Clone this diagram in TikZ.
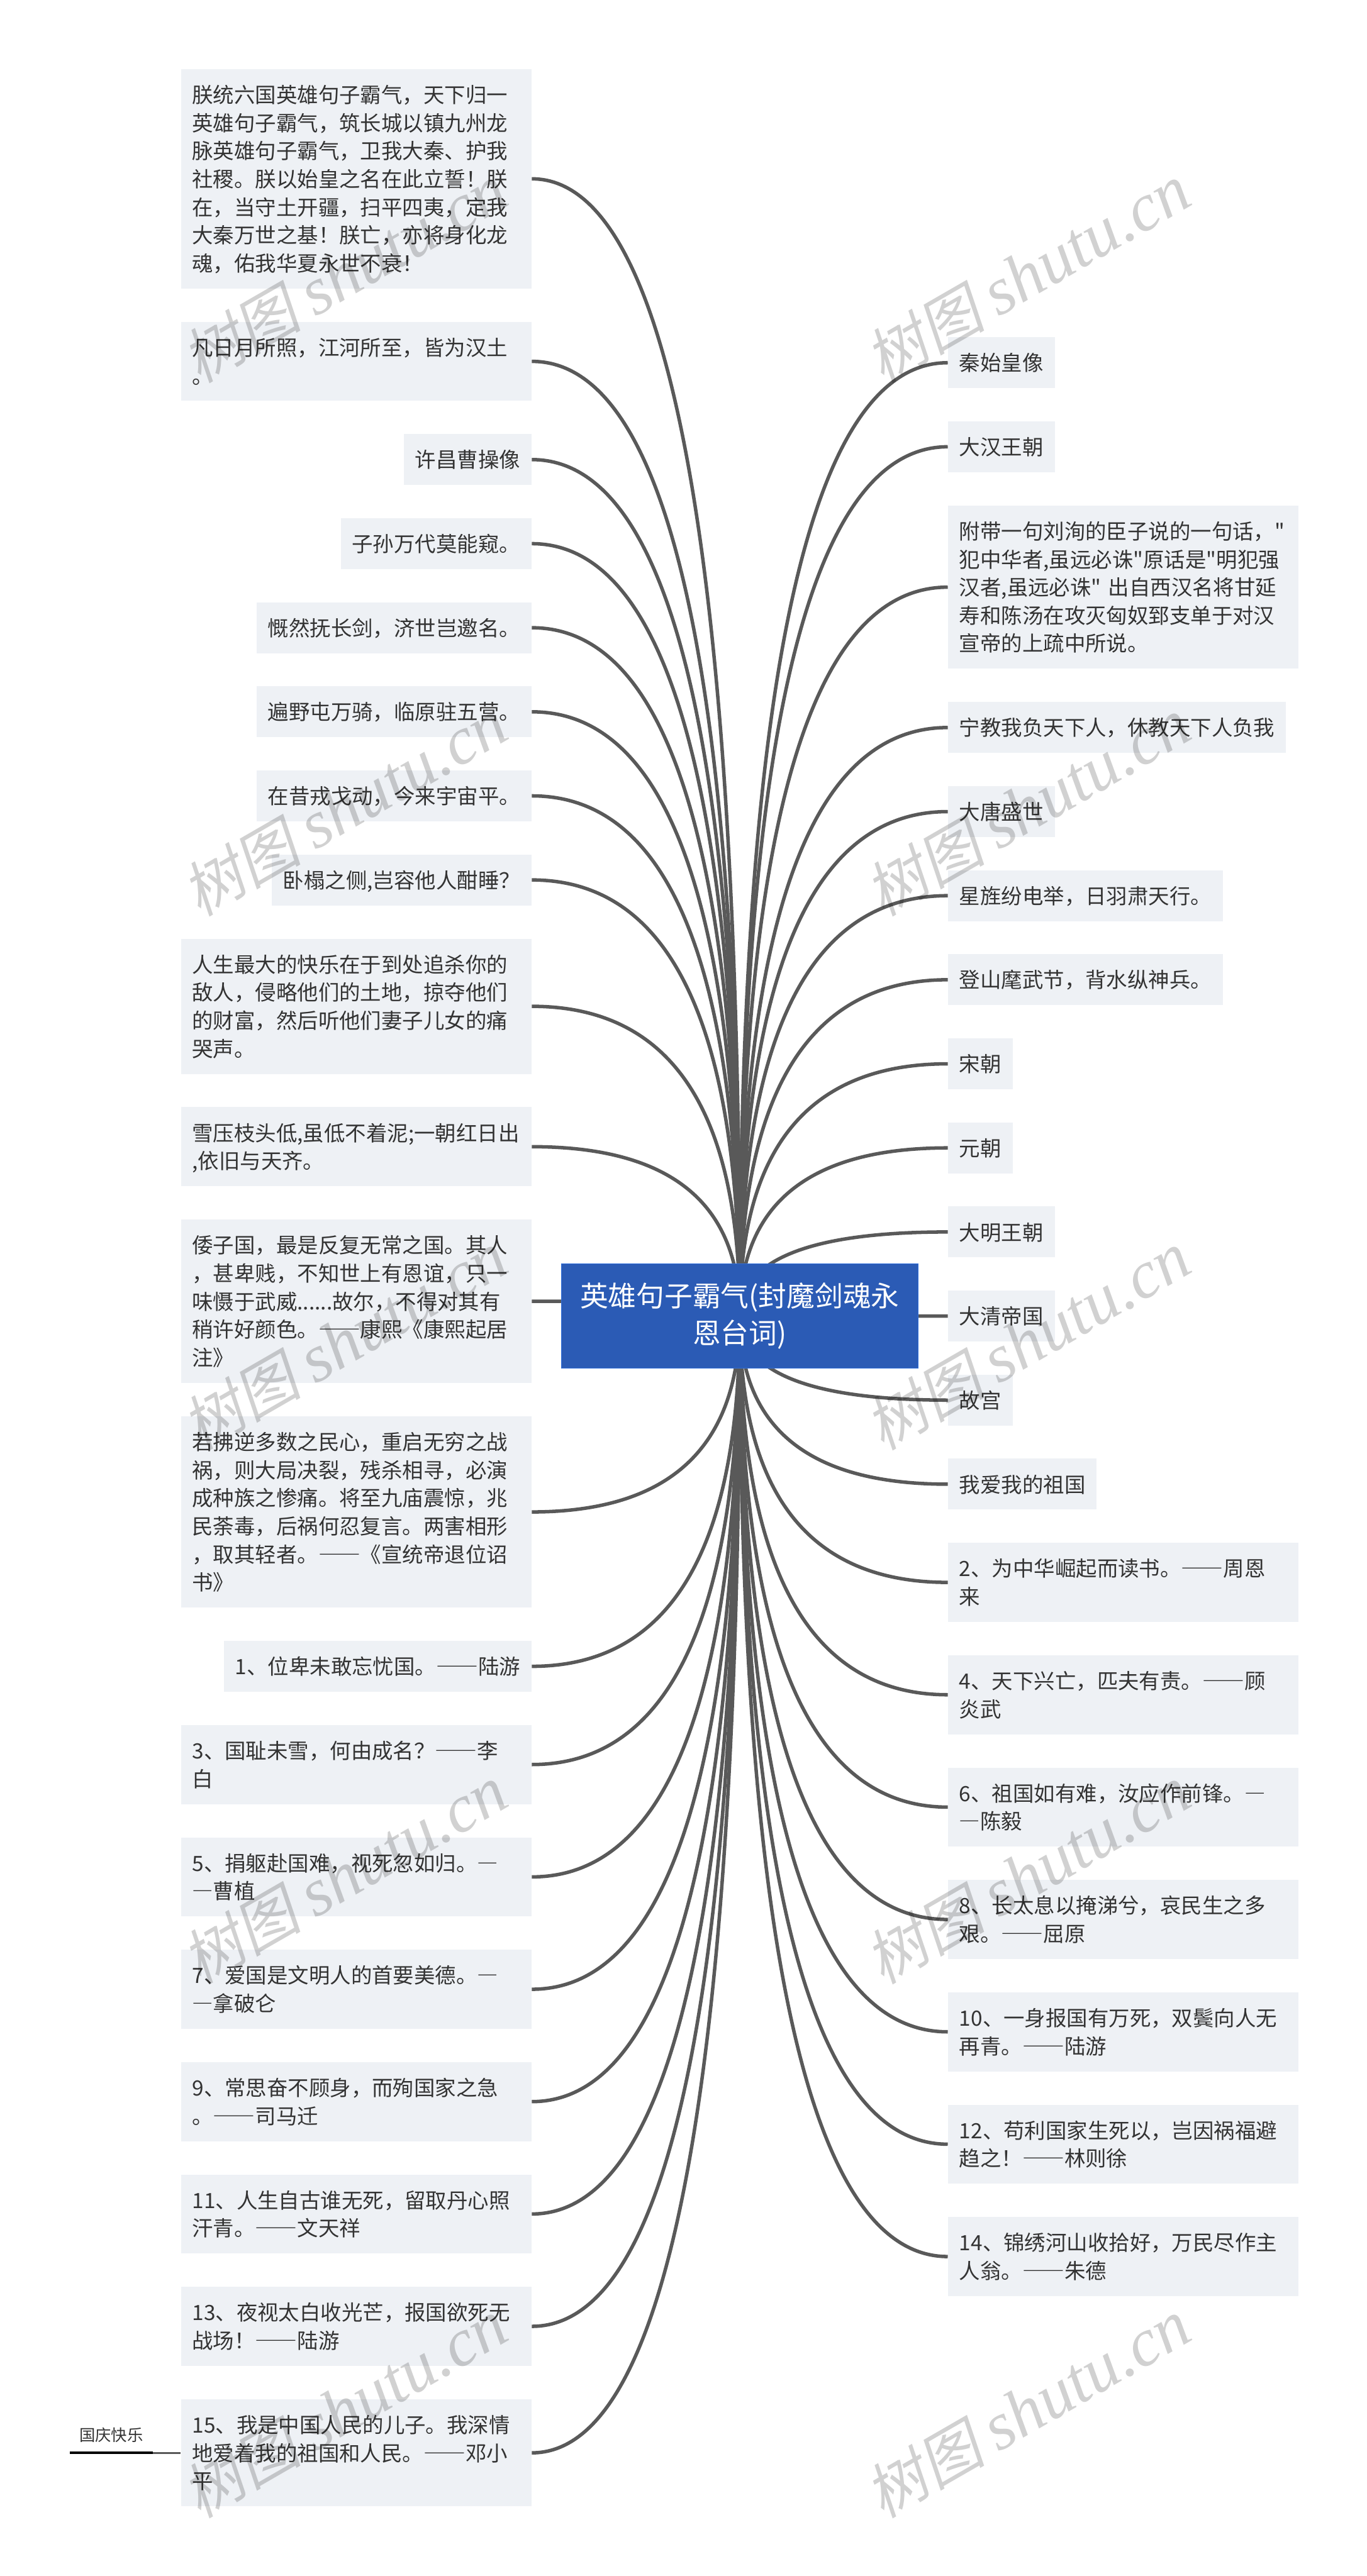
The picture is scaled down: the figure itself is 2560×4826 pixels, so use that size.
\documentclass[tikz,border=0pt]{standalone}
\usepackage{fontspec}
\setmainfont{Noto Sans CJK SC}
\newfontfamily\kplainfont{Noto Sans CJK SC}
\newfontfamily\kdashfont[RawFeature=+fwid]{Noto Sans CJK SC}
\newfontfamily\kmarkcjk[FakeSlant=0.2]{Noto Sans CJK SC}
\newfontfamily\kmarklat{Liberation Serif}
\newcommand{\kd}{{\kdashfont —}}
\newcommand{\kq}{{\kplainfont "}}
\newcommand{\kstrut}{\vrule width 0pt height 11.86pt depth 3.08pt\relax}
\usetikzlibrary{calc,backgrounds}
\definecolor{kboxfill}{HTML}{EEF1F5}
\definecolor{krootfill}{HTML}{2B5BB5}
\definecolor{krootedge}{HTML}{2F6DD9}
\definecolor{klinecol}{HTML}{595959}
\definecolor{ktextcol}{HTML}{333333}
\tikzset{
kbox/.style={fill=kboxfill,text=ktextcol,inner xsep=0.21cm,inner ysep=0.215cm,font=\fontsize{11.2}{14.94}\selectfont,execute at begin node=\kstrut,execute at end node=\kstrut},
kleaf/.style={kbox,align=left},
kwrap/.style={kbox,text width=6.14cm,align=left},
kroot/.style={fill=krootfill,draw=krootedge,line width=0.3pt,text=white,minimum width=6.67cm,minimum height=1.95cm,inner sep=0pt,align=center,font=\fontsize{15}{19.9}\selectfont,execute at begin node={\vrule width 0pt height 15.7pt\relax}},
klink/.style={draw=klinecol,line width=1.85pt},
kfest/.style={text=ktextcol,anchor=south,minimum width=1.53cm,inner xsep=0pt,inner ysep=5.2pt,font=\fontsize{8.5}{10}\selectfont},
kmark/.style={rotate=30,text=black,text opacity=0.18,inner sep=0pt},
}
\begin{document}
\begin{tikzpicture}[x=0.01cm,y=-0.01cm]
\pgfmathsetmacro{\kleftx}{996}
\pgfmathsetmacro{\krightx}{1775}
\useasboundingbox(0,0)rectangle(2560,4826);
\node[kroot](root)at(1385.5,2465.5){英雄句子霸气(封魔剑魂永\\恩台词)};
\foreach \kname/\ky/\kstyle/\ktext in {
kla/335/kwrap/{朕统六国英雄句子霸气，天下归一\\英雄句子霸气，筑长城以镇九州龙\\脉英雄句子霸气，卫我大秦、护我\\社稷。朕以始皇之名在此立誓！朕\\在，当守土开疆，扫平四夷，定我\\大秦万世之基！朕亡，亦将身化龙\\魂，佑我华夏永世不衰！},
klb/677/kwrap/{凡日月所照，江河所至，皆为汉土\\。},
klc/861/kleaf/{许昌曹操像},
kld/1018.5/kleaf/{子孙万代莫能窥。},
kle/1176/kleaf/{慨然抚长剑，济世岂邀名。},
klf/1333.5/kleaf/{遍野屯万骑，临原驻五营。},
klg/1491/kleaf/{在昔戎戈动，今来宇宙平。},
klh/1648.5/kleaf/{卧榻之侧,岂容他人酣睡？},
kli/1885.25/kwrap/{人生最大的快乐在于到处追杀你的\\敌人，侵略他们的土地，掠夺他们\\的财富，然后听他们妻子儿女的痛\\哭声。},
klj/2148.25/kwrap/{雪压枝头低,虽低不着泥;一朝红日出\\,依旧与天齐。},
klk/2437.75/kwrap/{倭子国，最是反复无常之国。其人\\，甚卑贱，不知世上有恩谊，只一\\味慑于武威......故尔，不得对其有\\稍许好颜色。\kd\kd 康熙《康熙起居\\注》},
kll/2832.5/kwrap/{若拂逆多数之民心，重启无穷之战\\祸，则大局决裂，残杀相寻，必演\\成种族之惨痛。将至九庙震惊，兆\\民荼毒，后祸何忍复言。两害相形\\，取其轻者。\kd\kd《宣统帝退位诏\\书》},
klm/3121.75/kleaf/{1、位卑未敢忘忧国。\kd\kd 陆游},
kln/3305.75/kwrap/{3、国耻未雪，何由成名？\kd\kd 李\\白},
klo/3516.25/kwrap/{5、捐躯赴国难，视死忽如归。\kd\\\kd 曹植},
klp/3726.75/kwrap/{7、爱国是文明人的首要美德。\kd\\\kd 拿破仑},
klq/3937.25/kwrap/{9、常思奋不顾身，而殉国家之急\\。\kd\kd 司马迁},
klr/4147.75/kwrap/{11、人生自古谁无死，留取丹心照\\汗青。\kd\kd 文天祥},
kls/4358.25/kwrap/{13、夜视太白收光芒，报国欲死无\\战场！\kd\kd 陆游},
klt/4595.25/kwrap/{15、我是中国人民的儿子。我深情\\地爱着我的祖国和人民。\kd\kd 邓小\\平}
}{\node[\kstyle,anchor=east](\kname)at(\kleftx,\ky){\ktext};
\begin{pgfonlayer}{background}
\draw[klink](root.center)..controls($(root.center)!0.667!(root.center|-\kname.east)$)and($(\kname.east)!0.667!(root.center|-\kname.east)$)..(\kname.east);
\end{pgfonlayer}}
\foreach \kname/\ky/\kstyle/\ktext in {
kra/679.5/kleaf/{秦始皇像},
krb/837/kleaf/{大汉王朝},
krc/1100/kwrap/{附带一句刘洵的臣子说的一句话，\kq\\犯中华者,虽远必诛\kq 原话是\kq 明犯强\\汉者,虽远必诛\kq\ 出自西汉名将甘延\\寿和陈汤在攻灭匈奴郅支单于对汉\\宣帝的上疏中所说。},
krd/1363/kleaf/{宁教我负天下人，休教天下人负我},
kre/1520.5/kleaf/{大唐盛世},
krf/1678/kleaf/{星旌纷电举，日羽肃天行。},
krg/1835.5/kleaf/{登山麾武节，背水纵神兵。},
krh/1993/kleaf/{宋朝},
kri/2150.5/kleaf/{元朝},
krj/2308/kleaf/{大明王朝},
krk/2465.5/kleaf/{大清帝国},
krl/2623/kleaf/{故宫},
krm/2780.5/kleaf/{我爱我的祖国},
krn/2964.5/kwrap/{2、为中华崛起而读书。\kd\kd 周恩\\来},
kro/3175/kwrap/{4、天下兴亡，匹夫有责。\kd\kd 顾\\炎武},
krp/3385.5/kwrap/{6、祖国如有难，汝应作前锋。\kd\\\kd 陈毅},
krq/3596/kwrap/{8、长太息以掩涕兮，哀民生之多\\艰。\kd\kd 屈原},
krr/3806.5/kwrap/{10、一身报国有万死，双鬓向人无\\再青。\kd\kd 陆游},
krs/4017/kwrap/{12、苟利国家生死以，岂因祸福避\\趋之！\kd\kd 林则徐},
krt/4227.5/kwrap/{14、锦绣河山收拾好，万民尽作主\\人翁。\kd\kd 朱德}
}{\node[\kstyle,anchor=west](\kname)at(\krightx,\ky){\ktext};
\begin{pgfonlayer}{background}
\draw[klink](root.center)..controls($(root.center)!0.667!(root.center|-\kname.west)$)and($(\kname.west)!0.667!(root.center|-\kname.west)$)..(\kname.west);
\end{pgfonlayer}}
\node[kfest](kholiday)at(208.5,4595.25){国庆快乐};
\draw[line width=1.3pt,black](kholiday.south west)--(kholiday.south east);
\draw[draw=klinecol,line width=1.1pt](kholiday.south east)--(klt.west);
\foreach \kx in {645,1925}{\foreach \ky in {513,1513,2513,3513,4513}{
\node[kmark](kmark\kx\ky)at(\kx,\ky){\kmarkcjk\fontsize{32}{36}\selectfont 树图 \kmarklat\itshape\fontsize{36}{40}\selectfont shutu.cn};}}
\end{tikzpicture}
\end{document}
